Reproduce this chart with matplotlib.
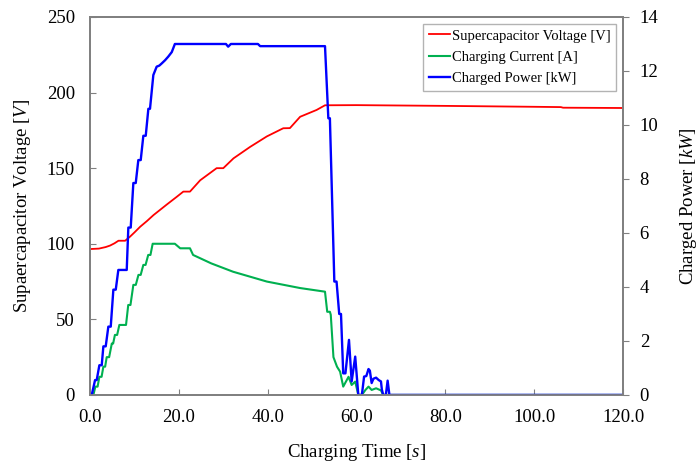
import matplotlib
matplotlib.use('Agg')
import matplotlib.pyplot as plt

plt.rcParams['font.family'] = ['Liberation Serif', 'DejaVu Serif']
plt.rcParams['mathtext.fontset'] = 'custom'
plt.rcParams['mathtext.rm'] = 'Liberation Serif'
plt.rcParams['mathtext.it'] = 'Liberation Serif:italic'

# supercapacitor voltage [V]
volt_t = [0, 2, 3.5, 4.5, 5.5, 6.4, 7.9, 9, 10, 11.3, 12.8, 14.3, 15.8, 17.3, 19.5, 21, 22.5,
          24.8, 28.5, 30, 32.3, 36, 39.8, 43.5, 45, 47.3, 51, 52.9, 60, 80, 100, 106,
          106.5, 120]
volt_v = [96.5, 96.8, 97.8, 98.8, 100.3, 102, 102, 104.7, 107.5, 111.3, 115, 119, 122.5, 126,
          131, 134.5, 134.5, 142, 150, 150, 156.5, 164, 171, 176.4, 176.5, 184, 188.5,
          191.6, 191.7, 191.2, 190.6, 190.4, 190, 189.8]

# charging current [A]
curr_t = [0, 0.75, 1.2, 1.7, 2.1, 2.6, 3.0, 3.4, 3.75, 4.3, 4.9, 5.2, 5.6, 6.1, 6.6, 8.1,
          8.6, 9.1, 9.75, 10.3, 10.9, 11.4, 12.0, 12.5, 13.1, 13.6, 14.1, 19.1, 20.3, 22.5,
          23.2, 27.3, 32.2, 39.8, 47.3, 52.9, 53.4, 54.0, 54.2, 54.8, 55.6, 56.3, 57.0, 58.2,
          58.9, 59.7, 60.4, 61.2, 62.0, 62.7, 63.4, 64.4, 65.5, 66.0, 120]
curr_a = [0, 0, 5.5, 5.5, 12, 12, 18.7, 18.7, 25, 25, 34, 34, 39.7, 39.7, 46.3, 46.3,
          59.5, 59.5, 72.8, 72.8, 79.4, 79.4, 86, 86, 92.6, 92.6, 100, 100, 97, 97,
          92.6, 87, 81.5, 75, 70.7, 68.3, 55, 55, 53, 25, 18.7, 15.4, 5.5, 12,
          6.6, 8.8, 0, 0, 3.3, 5.5, 3.3, 4.4, 3, 0, 0]

# charged power [kW]
pow_t = [0, 0.38, 1.13, 1.5, 2.1, 2.63, 3.0, 3.53, 4.12, 4.66, 5.25, 5.79, 6.37, 6.75,
         8.26, 8.62, 9.16, 9.75, 10.29, 10.87, 11.41, 12.0, 12.54, 13.13, 13.5, 14.25,
         15.0, 15.6, 16.14, 16.9, 17.6, 18.4, 19.1, 30.6, 31.1, 31.7, 37.8, 38.3, 52.9,
         53.65, 54.0, 55.0, 55.5, 56.1, 56.5, 57.0, 57.5, 58.3, 58.9, 59.7, 60.4, 61.2,
         61.7, 62.2, 62.7, 63.0, 63.4, 63.8, 64.4, 65.0, 65.5, 65.7, 66.0, 66.6, 67.0,
         67.4, 120]
pow_kw = [0, 0, 0.55, 0.55, 1.1, 1.1, 1.8, 1.8, 2.53, 2.53, 3.9, 3.9, 4.63, 4.63,
          4.63, 6.2, 6.2, 7.85, 7.85, 8.7, 8.7, 9.6, 9.6, 10.6, 10.6, 11.85,
          12.16, 12.2, 12.28, 12.4, 12.53, 12.7, 13.0, 13.0, 12.9, 13.0, 13.0, 12.92, 12.92,
          10.25, 10.25, 4.2, 4.2, 3.0, 3.0, 0.8, 0.8, 2.04, 0.5, 1.42, 0, 0,
          0.68, 0.7, 0.96, 0.9, 0.44, 0.6, 0.64, 0.55, 0.5, 0.2, 0, 0, 0.53,
          0, 0]

fig = plt.figure(figsize=(6.98, 4.63), dpi=100)
ax = fig.add_axes([0.129, 0.147, 0.7636, 0.8163])
ax2 = ax.twinx()

l1, = ax.plot(volt_t, volt_v, color='#ff0000', lw=1.3, label='Supercapacitor Voltage [V]')
l2, = ax.plot(curr_t, curr_a, color='#00b050', lw=1.5, label='Charging Current [A]')
l3, = ax2.plot(pow_t, pow_kw, color='#0000ff', lw=1.7, label='Charged Power [kW]')

ax.set_xlim(0, 120)
ax.set_ylim(0, 250)
ax2.set_ylim(0, 14)
ax.set_xticks([0, 20, 40, 60, 80, 100, 120])
ax.set_xticklabels(['%.1f' % v for v in [0, 20, 40, 60, 80, 100, 120]])
ax.set_yticks([0, 50, 100, 150, 200, 250])
ax2.set_yticks([0, 2, 4, 6, 8, 10, 12, 14])

for a in (ax, ax2):
    for s in a.spines.values():
        s.set_color('#808080')
        s.set_linewidth(1.3)

ax.tick_params(axis='x', direction='in', length=4, color='#808080', labelsize=13.5, pad=10)
ax.tick_params(axis='y', direction='in', length=4, color='#808080', labelsize=13.5, pad=11)
ax2.tick_params(axis='y', direction='out', length=4, color='#808080', labelsize=13.5, pad=8)

ax.set_xlabel('Charging Time [$\\it{s}$]', fontsize=13.5, labelpad=12)
ax.set_ylabel('Supaercapacitor Voltage [$\\it{V}$]', fontsize=13.5, labelpad=10)
ax2.set_ylabel('Charged Power [$\\it{kW}$]', fontsize=13.5, labelpad=14)

leg = ax2.legend(handles=[l1, l2, l3], loc='upper right', fontsize=10.5, fancybox=False,
                 edgecolor='#a0a0a0', handlelength=1.5, handletextpad=0.1,
                 labelspacing=0.55, borderaxespad=0.45, borderpad=0.4)
leg.get_frame().set_linewidth(1.0)

fig.savefig('out.png', dpi=100)
